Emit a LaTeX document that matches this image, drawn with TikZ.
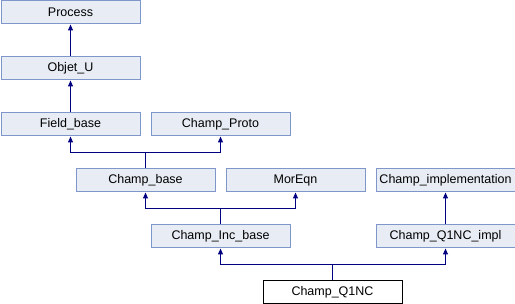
\documentclass[tikz,border=0pt]{standalone}
\usepackage{fontspec}
\setmainfont{Liberation Sans}
\usetikzlibrary{arrows.meta}
\definecolor{boxfill}{HTML}{E8ECF4}
\definecolor{boxline}{HTML}{7F96CB}
\definecolor{linkcol}{HTML}{000080}
\tikzset{
  cls/.style={draw=boxline, fill=boxfill, line width=1pt, minimum width=139pt, minimum height=23pt,
    inner sep=0pt, font=\fontsize{12.5}{14}\selectfont, anchor=north west},
  leafcls/.style={cls, draw=black, fill=white},
  inherit/.style={draw=linkcol, line width=1pt, {Triangle[width=5pt,length=6pt]}-}
}
\begin{document}
\begin{tikzpicture}[x=1pt,y=-1pt]
\useasboundingbox (0,0) rectangle (515,304);
% classes
\node[cls] (process) at (0.5,0.5) {Process};
\node[cls] (objet) at (0.5,56.5) {Objet\_U};
\node[cls] (field) at (0.5,112.5) {Field\_base};
\node[cls] (proto) at (150.5,112.5) {Champ\_Proto};
\node[cls] (cbase) at (75.5,168.5) {Champ\_base};
\node[cls] (moreqn) at (225.5,168.5) {MorEqn};
\node[cls] (cimpl) at (375.5,168.5) {Champ\_implementation};
\node[cls] (incbase) at (150.5,224.5) {Champ\_Inc\_base};
\node[cls] (q1impl) at (375.5,224.5) {Champ\_Q1NC\_impl};
\node[leafcls] (q1nc) at (262.5,280.5) {Champ\_Q1NC};
% inheritance links (junctions sit 16pt above each derived class)
\draw[inherit] (process.south) -- (objet.north);
\draw[inherit] (objet.south) -- (field.north);
\coordinate (j1) at ([yshift=16pt]cbase.north);
\draw[inherit] (field.south) |- (j1) -- (cbase.north);
\draw[inherit] (proto.south) |- (j1);
\coordinate (j2) at ([yshift=16pt]incbase.north);
\draw[inherit] (cbase.south) |- (j2) -- (incbase.north);
\draw[inherit] (moreqn.south) |- (j2);
\draw[inherit] (cimpl.south) -- (q1impl.north);
\coordinate (j3) at ([yshift=16pt]q1nc.north);
\draw[inherit] (incbase.south) |- (j3) -- (q1nc.north);
\draw[inherit] (q1impl.south) |- (j3);
\end{tikzpicture}
\end{document}
